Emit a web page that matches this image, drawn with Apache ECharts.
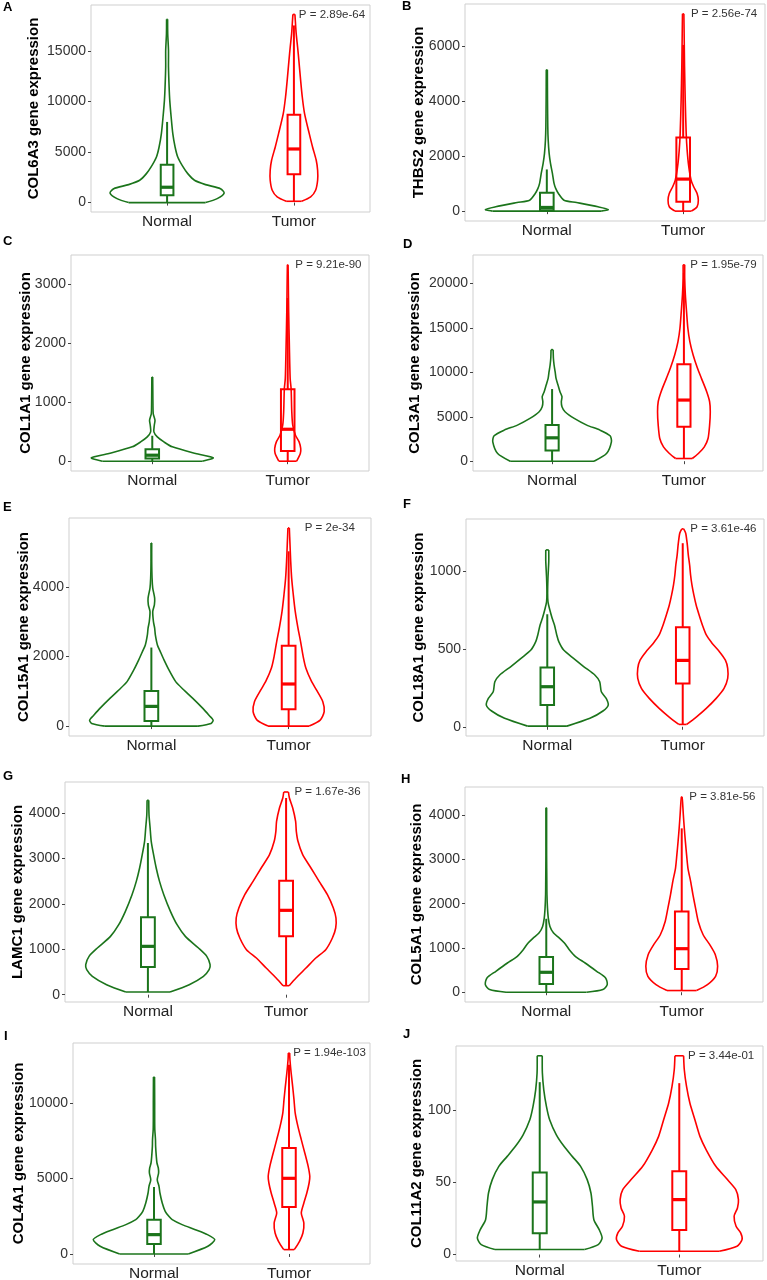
<!DOCTYPE html>
<html>
<head>
<meta charset="utf-8">
<script src="https://cdn.jsdelivr.net/npm/echarts@6/dist/echarts.min.js"></script>
<style>
html, body { margin: 0; padding: 0; background: #fff; }
#main { width: 767px; height: 1280px; }
</style>
</head>
<body>
<div id="main"></div>
<script>
var groups = ['Normal', 'Tumor'];
var letters = ['A', 'B', 'C', 'D', 'E', 'F', 'G', 'H', 'I', 'J'];
var genes = ['COL6A3', 'THBS2', 'COL1A1', 'COL3A1', 'COL15A1', 'COL18A1', 'LAMC1', 'COL5A1', 'COL4A1', 'COL11A2'];
var pValues = ['2.89e-64', '2.56e-74', '9.21e-90', '1.95e-79', '2e-34', '3.61e-46', '1.67e-36', '3.81e-56', '1.94e-103', '3.44e-01'];
var yTicks = [
  [0, 5000, 10000, 15000],
  [0, 2000, 4000, 6000],
  [0, 1000, 2000, 3000],
  [0, 5000, 10000, 15000, 20000],
  [0, 2000, 4000],
  [0, 500, 1000],
  [0, 1000, 2000, 3000, 4000],
  [0, 1000, 2000, 3000, 4000],
  [0, 5000, 10000],
  [0, 50, 100]
];

// violin outlines: [expression, half width in x units]
var violinA0 = [[0, 0.303], [390, 0.395], [950, 0.45], [1380, 0.421], [1780, 0.303], [2210, 0.216], [2870, 0.163], [3530, 0.126], [4520, 0.084], [5510, 0.063], [6830, 0.045], [8480, 0.032], [10130, 0.021], [11450, 0.016], [13430, 0.011], [15080, 0.011], [16730, 0.005], [18150, 0.004]];
var violinA1 = [[130, 0.061], [560, 0.132], [1220, 0.171], [2210, 0.187], [3200, 0.187], [4190, 0.176], [5510, 0.147], [6830, 0.121], [8810, 0.084], [10460, 0.066], [12110, 0.053], [14090, 0.039], [15410, 0.029], [16730, 0.018], [18050, 0.011], [18640, 0.008]];
var violinB0 = [[0, 0.399], [60, 0.45], [160, 0.375], [315, 0.218], [400, 0.126], [645, 0.085], [830, 0.065], [1010, 0.053], [1375, 0.041], [1740, 0.027], [2105, 0.017], [2590, 0.01], [3080, 0.007], [4050, 0.005], [5150, 0.004]];
var violinB1 = [[0, 0.06], [160, 0.102], [400, 0.111], [645, 0.102], [890, 0.077], [1130, 0.058], [1620, 0.041], [2225, 0.029], [2835, 0.022], [4050, 0.015], [5270, 0.01], [6480, 0.007], [7190, 0.005]];
var violinC0 = [[0, 0.369], [56, 0.45], [129, 0.32], [242, 0.148], [326, 0.086], [411, 0.037], [495, 0.012], [608, 0.015], [692, 0.02], [805, 0.007], [945, 0.005], [1171, 0.004], [1424, 0.003]];
var violinC1 = [[0, 0.066], [129, 0.093], [214, 0.096], [326, 0.084], [439, 0.057], [608, 0.037], [833, 0.03], [1227, 0.025], [1396, 0.018], [1958, 0.012], [2521, 0.007], [3084, 0.004], [3321, 0.0025]];
var violinD0 = [[0, 0.318], [865, 0.413], [2180, 0.45], [2857, 0.44], [3496, 0.363], [4060, 0.263], [4812, 0.168], [5563, 0.098], [6127, 0.075], [6691, 0.07], [7255, 0.075], [7819, 0.06], [8571, 0.045], [9322, 0.03], [10074, 0.023], [10826, 0.015], [11578, 0.01], [12555, 0.008]];
var violinD1 = [[301, 0.063], [865, 0.11], [1616, 0.155], [2556, 0.183], [4060, 0.195], [5563, 0.2], [6691, 0.195], [7819, 0.173], [9322, 0.133], [10450, 0.103], [11953, 0.07], [13457, 0.045], [14961, 0.03], [16840, 0.02], [18720, 0.011], [20599, 0.006], [22103, 0.006]];
var violinE0 = [[0, 0.339], [77, 0.435], [173, 0.45], [298, 0.423], [510, 0.375], [798, 0.302], [1038, 0.237], [1279, 0.177], [1615, 0.128], [1904, 0.092], [2144, 0.065], [2336, 0.044], [2625, 0.029], [2817, 0.024], [3009, 0.015], [3298, 0.01], [3490, 0.022], [3682, 0.024], [3971, 0.01], [4259, 0.005], [4740, 0.0025], [5269, 0.0025]];
var violinE1 = [[0, 0.15], [173, 0.23], [413, 0.259], [702, 0.249], [1019, 0.206], [1298, 0.165], [1663, 0.126], [2000, 0.106], [2433, 0.087], [2817, 0.068], [3298, 0.048], [3779, 0.034], [4259, 0.022], [4740, 0.015], [5221, 0.01], [5702, 0.005]];
var violinF0 = [[4, 0.145], [54, 0.315], [101, 0.411], [139, 0.45], [182, 0.435], [225, 0.399], [289, 0.387], [332, 0.351], [385, 0.271], [439, 0.194], [492, 0.121], [546, 0.085], [589, 0.07], [653, 0.053], [696, 0.036], [749, 0.019], [803, 0.005], [856, 0.0025], [953, 0.005], [1060, 0.011], [1135, 0.011]];
var violinF1 = [[15, 0.029], [64, 0.102], [118, 0.174], [182, 0.247], [246, 0.305], [310, 0.332], [375, 0.332], [428, 0.315], [482, 0.271], [535, 0.218], [589, 0.174], [653, 0.145], [717, 0.121], [781, 0.099], [846, 0.082], [910, 0.068], [974, 0.058], [1038, 0.051], [1103, 0.041], [1167, 0.034], [1242, 0.022], [1270, 0.007]];
var violinG0 = [[59, 0.16], [220, 0.299], [404, 0.402], [550, 0.443], [661, 0.45], [844, 0.426], [1027, 0.366], [1284, 0.271], [1541, 0.211], [1835, 0.163], [2202, 0.115], [2495, 0.084], [2789, 0.06], [3082, 0.041], [3376, 0.024], [3670, 0.016], [3963, 0.008], [4279, 0.006]];
var violinG1 = [[198, 0.022], [367, 0.072], [587, 0.144], [807, 0.215], [991, 0.287], [1248, 0.335], [1468, 0.359], [1688, 0.361], [1908, 0.342], [2202, 0.299], [2495, 0.239], [2789, 0.18], [3082, 0.12], [3376, 0.086], [3596, 0.074], [3816, 0.069], [4110, 0.048], [4330, 0.024], [4462, 0.017]];
var violinH0 = [[0, 0.297], [60, 0.418], [173, 0.45], [323, 0.438], [473, 0.372], [660, 0.287], [811, 0.214], [961, 0.17], [1111, 0.134], [1223, 0.097], [1336, 0.054], [1486, 0.027], [1674, 0.015], [1899, 0.009], [2199, 0.005], [2499, 0.004], [3100, 0.0025], [3475, 0.0025], [4165, 0.0025]];
var violinH1 = [[38, 0.109], [173, 0.19], [360, 0.25], [585, 0.265], [848, 0.248], [1073, 0.207], [1298, 0.158], [1599, 0.122], [1899, 0.102], [2199, 0.083], [2499, 0.066], [2799, 0.046], [3100, 0.036], [3400, 0.027], [3700, 0.019], [4000, 0.012], [4300, 0.006], [4413, 0.0025]];
var violinI0 = [[0, 0.254], [508, 0.399], [949, 0.45], [1280, 0.396], [1611, 0.306], [1943, 0.208], [2274, 0.135], [2494, 0.11], [2826, 0.083], [3377, 0.061], [4040, 0.044], [4481, 0.037], [4923, 0.024], [5364, 0.034], [5695, 0.032], [6026, 0.022], [6468, 0.017], [7130, 0.012], [7572, 0.011], [8234, 0.006], [8896, 0.005], [10000, 0.005], [11722, 0.004]];
var violinI1 = [[287, 0.039], [839, 0.078], [1391, 0.103], [2053, 0.11], [2715, 0.091], [3377, 0.11], [4040, 0.132], [4702, 0.149], [5143, 0.154], [5806, 0.142], [6689, 0.117], [7572, 0.091], [8455, 0.066], [9338, 0.046], [10221, 0.037], [11104, 0.027], [11987, 0.016], [12870, 0.007], [13311, 0.005]];
var violinJ0 = [[3.5, 0.321], [6.9, 0.419], [11.5, 0.447], [17.3, 0.426], [24.2, 0.388], [33.5, 0.378], [42.7, 0.367], [52, 0.34], [61.2, 0.293], [68.1, 0.233], [75.1, 0.174], [83.1, 0.119], [93.5, 0.071], [102.8, 0.048], [114.3, 0.029], [125.9, 0.019], [137.9, 0.018]];
var violinJ1 = [[2.3, 0.286], [5.8, 0.414], [10.4, 0.45], [15, 0.44], [19.6, 0.407], [26.6, 0.393], [32.3, 0.417], [38.1, 0.424], [45, 0.405], [52, 0.345], [61.2, 0.262], [72.7, 0.193], [82, 0.148], [93.5, 0.112], [105.1, 0.076], [116.6, 0.052], [128.2, 0.036], [137.9, 0.031]];

// boxplot stats per group: [lower whisker, Q1, median, Q3, upper whisker]
var boxA = [[0, 720, 1520, 3760, 7990], [130, 2800, 5310, 8710, 17550]];
var boxB = [[0, 36, 134, 669, 1520], [0, 341, 1168, 2688, 6058]];
var boxC = [[0, 45, 101, 203, 430], [0, 174, 540, 1216, 2760]];
var boxD = [[0, 1200, 2630, 4060, 8120], [300, 3870, 6880, 10900, 21200]];
var boxE = [[0, 144, 567, 1010, 2260], [0, 481, 1211, 2308, 5029]];
var boxF = [[0, 139, 257, 381, 722], [15, 278, 426, 638, 1178]];
var boxG = [[59, 609, 1064, 1703, 3339], [198, 1284, 1857, 2510, 4330]];
var boxH = [[0, 188, 450, 796, 1659], [38, 525, 983, 1824, 3700]];
var boxI = [[0, 662, 1280, 2274, 4437], [287, 3113, 5011, 7020, 12539]];
var boxJ = [[3.5, 14.8, 36.5, 57, 119.6], [2.3, 17.1, 38.1, 57.7, 118.9]];

var violins = [
  [violinA0, violinA1], [violinB0, violinB1], [violinC0, violinC1], [violinD0, violinD1], [violinE0, violinE1],
  [violinF0, violinF1], [violinG0, violinG1], [violinH0, violinH1], [violinI0, violinI1], [violinJ0, violinJ1]
];
var boxes = [boxA, boxB, boxC, boxD, boxE, boxF, boxG, boxH, boxI, boxJ];

// panel frames: left, right, top, bottom, y title centre x
var frames = [
  [91, 370, 5, 212, 33], [465, 765, 4, 221, 418],
  [71, 369, 255, 471, 25], [473, 763, 255, 471, 414],
  [69, 371, 518, 736, 23], [466, 764, 519, 736, 418],
  [65, 369, 782, 1002, 17], [465, 763, 787, 1002, 416],
  [73, 370, 1043, 1264, 18], [456, 763, 1046, 1261, 416]
];
var letterPos = [[3, 1], [402, 0], [3, 235], [403, 238], [3, 501], [403, 498], [3, 770], [401, 773], [4, 1030], [403, 1028]];

var colors = ['#1b741b', '#ff0000'];
var FONT = 'Liberation Sans, Arial, sans-serif';

function renderViolin(params, api) {
  if (params.dataIndexInside !== 0) return null;
  var n = params.dataInsideLength;
  var cx = api.value(0);
  var g = Math.round(cx) - 1;
  var left = [], right = [];
  for (var k = 0; k < n; k++) {
    var v = api.value(1, k), w = api.value(2, k);
    left.push(api.coord([cx - w, v]));
    right.push(api.coord([cx + w, v]));
  }
  var st = { stroke: colors[g], lineWidth: 1.6, fill: null };
  return {
    type: 'group',
    children: [
      { type: 'polyline', shape: { points: left, smooth: 0.25 }, style: st },
      { type: 'polyline', shape: { points: right, smooth: 0.25 }, style: st },
      { type: 'line', shape: { x1: left[0][0], y1: left[0][1], x2: right[0][0], y2: right[0][1] }, style: st },
      { type: 'line', shape: { x1: left[n - 1][0], y1: left[n - 1][1], x2: right[n - 1][0], y2: right[n - 1][1] }, style: st }
    ]
  };
}

function renderBox(params, api) {
  var cx = api.value(0);
  var g = Math.round(cx) - 1;
  var lo = api.coord([cx, api.value(1)]);
  var q1 = api.coord([cx, api.value(2)]);
  var md = api.coord([cx, api.value(3)]);
  var q3 = api.coord([cx, api.value(4)]);
  var hi = api.coord([cx, api.value(5)]);
  var l = api.coord([cx - 0.05, api.value(3)])[0];
  var r = api.coord([cx + 0.05, api.value(3)])[0];
  var st = { stroke: colors[g], lineWidth: 2, fill: null };
  return {
    type: 'group',
    children: [
      { type: 'line', shape: { x1: lo[0], y1: lo[1], x2: q1[0], y2: q1[1] }, style: st },
      { type: 'line', shape: { x1: q3[0], y1: q3[1], x2: hi[0], y2: hi[1] }, style: st },
      { type: 'rect', shape: { x: l, y: q3[1], width: r - l, height: q1[1] - q3[1] }, style: st },
      { type: 'line', shape: { x1: l, y1: md[1], x2: r, y2: md[1] }, style: { stroke: colors[g], lineWidth: 3.2 } }
    ]
  };
}

function renderP(params, api) {
  var p = api.coord([api.value(0), api.value(1)]);
  return {
    type: 'text',
    x: p[0], y: p[1],
    style: {
      text: 'P = ' + pValues[api.value(2)],
      align: 'center', verticalAlign: 'middle',
      font: '11.5px ' + FONT, fill: '#333'
    }
  };
}

var grid = [], xAxis = [], yAxis = [], series = [], graphic = [];

violins.forEach(function (pair, i) {
  var f = frames[i];
  var vals = pair[0].concat(pair[1]).map(function (d) { return d[0]; });
  var dmin = Math.min.apply(null, vals);
  var dmax = Math.max.apply(null, vals);
  var pad = (dmax - dmin) * 0.05;

  grid.push({
    left: f[0], top: f[2], width: f[1] - f[0], height: f[3] - f[2],
    show: true, borderColor: '#cfcfcf', borderWidth: 1, backgroundColor: '#fff',
    containLabel: false, outerBoundsMode: 'none'
  });
  xAxis.push({
    gridIndex: i, type: 'value', min: 0.4, max: 2.6,
    axisLine: { show: false }, splitLine: { show: false },
    axisTick: { show: true, customValues: [1, 2], length: 3, lineStyle: { color: '#444', width: 1 } },
    axisLabel: {
      customValues: [1, 2], margin: 2, fontSize: 15.5, color: '#222', fontFamily: FONT,
      formatter: function (v) { return groups[Math.round(v) - 1]; }
    }
  });
  yAxis.push({
    gridIndex: i, type: 'value', min: dmin - pad, max: dmax + pad,
    axisLine: { show: false }, splitLine: { show: false },
    axisTick: { show: true, customValues: yTicks[i], length: 3, lineStyle: { color: '#444', width: 1 } },
    axisLabel: {
      customValues: yTicks[i], margin: 5, fontSize: 14, color: '#333', fontFamily: FONT,
      formatter: function (v) { return String(v); }
    },
    name: genes[i] + ' gene expression', nameLocation: 'middle', nameRotate: 90,
    nameGap: f[0] - f[4] - 8, nameMoveOverlap: false,
    nameTextStyle: { fontSize: 15, fontWeight: 'bold', color: '#000', fontFamily: FONT }
  });

  pair.forEach(function (prof, g) {
    series.push({
      type: 'custom', xAxisIndex: i, yAxisIndex: i, silent: true, clip: false,
      data: prof.map(function (d) { return [g + 1, d[0], d[1]]; }),
      encode: { x: 0, y: 1 },
      renderItem: renderViolin
    });
  });
  series.push({
    type: 'custom', xAxisIndex: i, yAxisIndex: i, silent: true, clip: false,
    data: boxes[i].map(function (b, g) { return [g + 1].concat(b); }),
    encode: { x: 0, y: [1, 2, 3, 4, 5] },
    renderItem: renderBox
  });
  series.push({
    type: 'custom', xAxisIndex: i, yAxisIndex: i, silent: true, clip: false,
    data: [[2.3, dmax, i]],
    encode: { x: 0, y: 1 },
    renderItem: renderP
  });

  graphic.push({
    type: 'text', left: letterPos[i][0], top: letterPos[i][1],
    style: { text: letters[i], font: 'bold 13px ' + FONT, fill: '#000' }
  });
});

var chart = echarts.init(document.getElementById('main'), null, { renderer: 'canvas' });
chart.setOption({
  backgroundColor: '#fff',
  animation: false,
  grid: grid,
  xAxis: xAxis,
  yAxis: yAxis,
  series: series,
  graphic: graphic
});
</script>
</body>
</html>
